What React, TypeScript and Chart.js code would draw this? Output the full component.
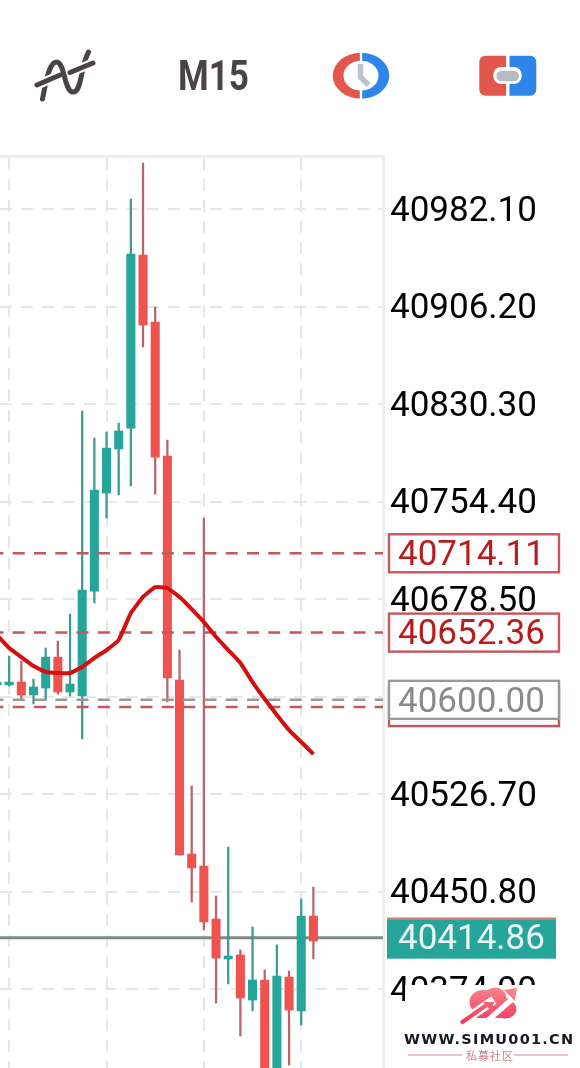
import React, { useEffect, useRef } from "react";
import { Chart, registerables } from "chart.js";

Chart.register(...registerables);

const candleIndex = [0, 1, 2, 3, 4, 5, 6, 7, 8, 9, 10, 11, 12, 13, 14, 15, 16, 17, 18, 19, 20, 21, 22, 23, 24, 25, 26];
const highs = [40613.9, 40634.1, 40630.2, 40616.2, 40640.4, 40645.8, 40666.8, 40824.8, 40803.8, 40808.5, 40815.5, 40989.9, 41017.9, 40905.8, 40802.3, 40638.8, 40532.9, 40741.6, 40447.3, 40485.4, 40405.3, 40423.2, 40389.7, 40409.2, 40388.9, 40445.0, 40454.3];
const lows = [40611.6, 40610.8, 40600.7, 40596.8, 40599.9, 40604.5, 40603.0, 40569.5, 40675.4, 40741.6, 40759.5, 40766.5, 40874.7, 40760.2, 40598.3, 40479.2, 40442.6, 40420.8, 40364.0, 40378.8, 40338.3, 40357.8, 40292.4, 40292.4, 40315.7, 40346.9, 40398.3];
const opens = [40611.6, 40611.6, 40613.9, 40603.8, 40609.2, 40633.3, 40606.1, 40603.0, 40684.7, 40761.0, 40795.3, 40811.6, 40946.3, 40894.1, 40789.8, 40615.4, 40480.0, 40470.6, 40429.4, 40398.3, 40401.4, 40366.3, 40381.9, 40296.3, 40384.2, 40357.8, 40431.7];
const closes = [40613.9, 40613.9, 40603.8, 40610.0, 40633.3, 40606.1, 40612.3, 40685.5, 40763.4, 40796.0, 40809.3, 40947.1, 40891.8, 40789.0, 40617.0, 40479.2, 40469.1, 40427.1, 40399.0, 40400.6, 40367.9, 40381.9, 40296.3, 40385.0, 40358.5, 40431.7, 40412.3];
const movingAverage = [40650.5, 40640.4, 40633.3, 40626.3, 40621.7, 40620.9, 40620.9, 40625.6, 40632.6, 40638.8, 40646.6, 40667.6, 40680.1, 40687.8, 40687.1, 40680.1, 40670.7, 40660.6, 40648.9, 40638.8, 40628.7, 40613.9, 40600.7, 40588.2, 40576.5, 40567.2, 40557.8];

const tickPrices = [40982.1, 40906.2, 40830.3, 40754.4, 40678.5, 40602.6, 40526.7, 40450.8, 40374.9];
const timeGridIndex = [1, 9, 17, 25];
const takeProfitLevels = [40714.11, 40652.36];
const hiddenLevel = 40594.4;
const pendingLevel = 40600.0;
const lastPrice = 40414.86;

const PRICE_MIN = 40313.4;
const PRICE_MAX = 41023.4;
const INDEX_MIN = 0.2465;
const INDEX_MAX = 31.72;

const GREEN = "#26a69a";
const RED = "#ef5350";
const GREEN_WICK = "#3d9a92";
const RED_WICK = "#b9636b";
const FONT = "35px Roboto";

const isUp = (i: number) => closes[i] >= opens[i];
const wickData = (up: boolean) =>
  candleIndex.filter((i) => isUp(i) === up).map((i) => ({ x: i, y: [lows[i], highs[i]] }));
const bodyData = (up: boolean) =>
  candleIndex.filter((i) => isUp(i) === up).map((i) => ({ x: i, y: [opens[i], closes[i]] }));
const levelLine = (p: number) => [
  { x: INDEX_MIN, y: p },
  { x: INDEX_MAX, y: p },
];

function roundedBox(ctx: CanvasRenderingContext2D, x: number, y: number, w: number, h: number, r: number) {
  ctx.beginPath();
  ctx.roundRect(x, y, w, h, r);
}

function drawHeader(ctx: CanvasRenderingContext2D) {
  // indicator icon
  ctx.save();
  ctx.lineCap = "round";
  ctx.lineJoin = "round";
  ctx.strokeStyle = "#4a4445";
  ctx.lineWidth = 5;
  ctx.beginPath();
  ctx.moveTo(42.5, 99);
  ctx.bezierCurveTo(46, 82, 49, 62, 56.5, 62);
  ctx.bezierCurveTo(65, 62, 64, 92, 73, 92);
  ctx.bezierCurveTo(82, 92, 80, 68, 88.5, 52);
  ctx.stroke();
  const crosses: number[][] = [
    [37, 85, 60, 75],
    [70, 72.5, 93, 63],
  ];
  for (const c of crosses) {
    ctx.lineWidth = 9;
    ctx.strokeStyle = "#ffffff";
    ctx.lineCap = "butt";
    ctx.beginPath();
    ctx.moveTo(c[0], c[1]);
    ctx.lineTo(c[2], c[3]);
    ctx.stroke();
    ctx.lineWidth = 5;
    ctx.lineCap = "round";
    ctx.strokeStyle = "#4a4445";
    ctx.beginPath();
    ctx.moveTo(c[0], c[1]);
    ctx.lineTo(c[2], c[3]);
    ctx.stroke();
  }
  ctx.restore();

  // timeframe
  ctx.save();
  ctx.font = "bold 42px Roboto";
  ctx.fillStyle = "#4a4445";
  ctx.textBaseline = "alphabetic";
  ctx.translate(178, 90);
  ctx.scale(0.835, 1);
  ctx.fillText("M15", 0, 0);
  ctx.restore();

  // clock icon
  ctx.save();
  const cx = 361;
  const cy = 75.7;
  ctx.fillStyle = "#e2574c";
  ctx.beginPath();
  ctx.ellipse(cx, cy, 28.3, 23, 0, Math.PI / 2, (3 * Math.PI) / 2);
  ctx.ellipse(cx, cy, 17.5, 15, 0, (3 * Math.PI) / 2, Math.PI / 2, true);
  ctx.closePath();
  ctx.fill();
  ctx.fillStyle = "#2f86ea";
  ctx.beginPath();
  ctx.ellipse(cx, cy, 28.3, 23, 0, -Math.PI / 2, Math.PI / 2);
  ctx.ellipse(cx, cy, 17.5, 15, 0, Math.PI / 2, -Math.PI / 2, true);
  ctx.closePath();
  ctx.fill();
  ctx.fillStyle = "#ffffff";
  ctx.fillRect(cx - 1.2, cy - 24, 2.4, 48);
  ctx.strokeStyle = "#bcc3ca";
  ctx.lineWidth = 5.5;
  ctx.lineJoin = "miter";
  ctx.beginPath();
  ctx.moveTo(360.5, 64);
  ctx.lineTo(360.5, 77);
  ctx.lineTo(368.5, 85);
  ctx.stroke();
  ctx.restore();

  // one-click icon
  ctx.save();
  ctx.fillStyle = "#e2574c";
  ctx.beginPath();
  ctx.roundRect(479.3, 55.7, 27, 40, [6, 0, 0, 6]);
  ctx.fill();
  ctx.fillStyle = "#2f86ea";
  ctx.beginPath();
  ctx.roundRect(509.3, 55.7, 27, 40, [0, 6, 6, 0]);
  ctx.fill();
  ctx.fillStyle = "#ffffff";
  ctx.fillRect(506.3, 55, 3, 42);
  roundedBox(ctx, 493.3, 67, 28.4, 17, 8);
  ctx.fill();
  ctx.fillStyle = "#b4bbc3";
  roundedBox(ctx, 496.3, 70.7, 22.7, 10.6, 5.3);
  ctx.fill();
  ctx.restore();
}

function drawWatermark(ctx: CanvasRenderingContext2D) {
  ctx.save();
  ctx.fillStyle = "#ffffff";
  ctx.fillRect(405, 985, 175, 83);
  ctx.fillRect(388, 1003, 192, 65);

  // cloud
  ctx.save();
  const g = ctx.createLinearGradient(0, 988, 0, 1020);
  g.addColorStop(0, "#f98388");
  g.addColorStop(1, "#f23f62");
  ctx.fillStyle = g;
  ctx.beginPath();
  ctx.ellipse(483, 1002, 13.5, 12, 0, 0, Math.PI * 2);
  ctx.ellipse(495, 997, 11, 9.5, 0, 0, Math.PI * 2);
  ctx.ellipse(505, 1009, 11.5, 9.5, 0, 0, Math.PI * 2);
  ctx.rect(473, 1005, 36, 13);
  ctx.fill();
  ctx.restore();

  ctx.lineCap = "butt";
  // white bands through the cloud
  ctx.strokeStyle = "#ffffff";
  ctx.lineWidth = 5.5;
  ctx.beginPath();
  ctx.moveTo(486, 1022);
  ctx.lineTo(518, 994);
  ctx.stroke();
  ctx.lineWidth = 9;
  ctx.beginPath();
  ctx.moveTo(456, 1026);
  ctx.lineTo(494, 1000);
  ctx.stroke();

  // arrows
  const a = ctx.createLinearGradient(460, 1023, 517, 988);
  a.addColorStop(0, "#ee3a5e");
  a.addColorStop(1, "#f9898a");
  ctx.strokeStyle = a;
  ctx.fillStyle = a;
  ctx.lineWidth = 4;
  ctx.beginPath();
  ctx.moveTo(461, 1023);
  ctx.lineTo(488, 1004);
  ctx.stroke();
  ctx.beginPath();
  ctx.moveTo(494, 1002);
  ctx.lineTo(483, 1002);
  ctx.lineTo(492, 1012);
  ctx.closePath();
  ctx.fill();
  ctx.beginPath();
  ctx.moveTo(517, 988);
  ctx.lineTo(504, 990);
  ctx.lineTo(515, 1001);
  ctx.closePath();
  ctx.fill();

  ctx.fillStyle = "#181826";
  ctx.font = "bold 14.5px 'DejaVu Sans'";
  ctx.textBaseline = "alphabetic";
  ctx.letterSpacing = "1.25px";
  ctx.fillText("WWW.SIMU001.CN", 404, 1044);
  ctx.letterSpacing = "0px";

  ctx.strokeStyle = "#cf8a90";
  ctx.lineWidth = 1;
  ctx.beginPath();
  ctx.moveTo(408, 1055);
  ctx.lineTo(462, 1055);
  ctx.moveTo(514, 1055);
  ctx.lineTo(568, 1055);
  ctx.stroke();
  ctx.fillStyle = "#c9848b";
  ctx.font = "11px 'Noto Sans CJK SC'";
  ctx.textBaseline = "middle";
  ctx.letterSpacing = "1px";
  ctx.fillText("私募社区", 466, 1055.5);
  ctx.letterSpacing = "0px";
  ctx.restore();
}

const overlay = {
  id: "overlay",
  afterDraw(chart: any) {
    const ctx: CanvasRenderingContext2D = chart.ctx;
    const y = chart.scales.y;
    ctx.save();
    ctx.textBaseline = "middle";
    ctx.font = FONT;

    const box = (price: number, stroke: string, text: string | null, color: string) => {
      const c = y.getPixelForValue(price);
      ctx.fillStyle = "#ffffff";
      ctx.fillRect(389, c - 19, 170, 38);
      ctx.strokeStyle = stroke;
      ctx.lineWidth = 2.4;
      ctx.strokeRect(389, c - 19, 170, 38);
      if (text) {
        ctx.fillStyle = color;
        ctx.fillText(text, 398, c + 3);
      }
    };

    for (const p of takeProfitLevels) box(p, "#c8565c", p.toFixed(2), "#b91c1c");
    box(hiddenLevel, "#c8565c", null, "");
    box(pendingLevel, "#9a9a9a", pendingLevel.toFixed(2), "#8a8a8a");

    const c = y.getPixelForValue(lastPrice);
    ctx.fillStyle = GREEN;
    ctx.fillRect(387, c - 20, 169, 41);
    ctx.fillStyle = "#d8807a";
    ctx.fillRect(387, c - 20, 169, 2);
    ctx.fillStyle = "#eaf6f4";
    ctx.fillText(lastPrice.toFixed(2), 398, c + 3);
    ctx.restore();

    drawHeader(ctx);
    drawWatermark(ctx);
  },
};

export default function App() {
  const ref = useRef<HTMLCanvasElement>(null);

  useEffect(() => {
    const canvas = ref.current;
    if (!canvas) return;
    const dash = { borderDash: [12, 9.3], borderDashOffset: 8.6, borderWidth: 2.5, pointRadius: 0, tension: 0 };
    const chart = new Chart(canvas, {
      type: "bar",
      data: {
        datasets: [
          { type: "line", data: levelLine(lastPrice), borderColor: "#7d8a86", borderWidth: 3, pointRadius: 0, order: 6 },
          { type: "bar", data: wickData(true), backgroundColor: GREEN_WICK, barThickness: 1.6, grouped: false, order: 5 },
          { type: "bar", data: wickData(false), backgroundColor: RED_WICK, barThickness: 1.6, grouped: false, order: 5 },
          { type: "bar", data: bodyData(true), backgroundColor: GREEN, barThickness: 8.4, grouped: false, order: 4 },
          { type: "bar", data: bodyData(false), backgroundColor: RED, barThickness: 8.4, grouped: false, order: 4 },
          ...takeProfitLevels.map((p) => ({ type: "line", data: levelLine(p), borderColor: "#c4565c", order: 3, ...dash })),
          { type: "line", data: levelLine(pendingLevel), borderColor: "#9a9a9a", order: 3, ...dash },
          { type: "line", data: levelLine(hiddenLevel), borderColor: "#c4565c", order: 3, ...dash },
          {
            type: "line",
            data: candleIndex.map((i) => ({ x: i, y: movingAverage[i] })),
            borderColor: "#d40f0f",
            borderWidth: 4,
            pointRadius: 0,
            tension: 0.1,
            order: 1,
          },
        ] as any,
      },
      options: {
        responsive: false,
        animation: false,
        layout: { autoPadding: false, padding: { top: 156, left: 0, right: 0, bottom: 0 } },
        plugins: { legend: { display: false }, tooltip: { enabled: false } },
        scales: {
          x: {
            type: "linear",
            position: "top",
            min: INDEX_MIN,
            max: INDEX_MAX,
            offset: false,
            afterBuildTicks: (s: any) => {
              s.ticks = timeGridIndex.map((value) => ({ value }));
            },
            afterFit: (s: any) => {
              s.height = 0;
              s.paddingLeft = 0;
              s.paddingRight = 0;
            },
            ticks: { display: false },
            grid: { color: "#e7e7e9", lineWidth: 2, tickLength: 0, offset: false },
            border: { display: true, color: "#eeeef0", width: 3, dash: [12, 9] },
          },
          y: {
            type: "linear",
            position: "right",
            min: PRICE_MIN,
            max: PRICE_MAX,
            afterBuildTicks: (s: any) => {
              s.ticks = tickPrices.map((value) => ({ value }));
            },
            afterFit: (s: any) => {
              s.width = 197;
              s.paddingTop = 0;
              s.paddingBottom = 0;
            },
            ticks: {
              autoSkip: false,
              padding: 7,
              labelOffset: 3,
              crossAlign: "near",
              color: "#000000",
              font: { family: "Roboto", size: 35 },
              callback: (v: any) => Number(v).toFixed(2),
            },
            grid: { color: "#e7e7e9", lineWidth: 2, tickLength: 0 },
            border: { display: true, color: "#eeeef0", width: 3, dash: [12, 9] },
          },
        },
      } as any,
      plugins: [overlay],
    });
    return () => chart.destroy();
  }, []);

  return (
    <canvas
      ref={ref}
      width={580}
      height={1068}
      style={{ position: "absolute", left: 0, top: 0, display: "block", background: "#ffffff" }}
    />
  );
}
